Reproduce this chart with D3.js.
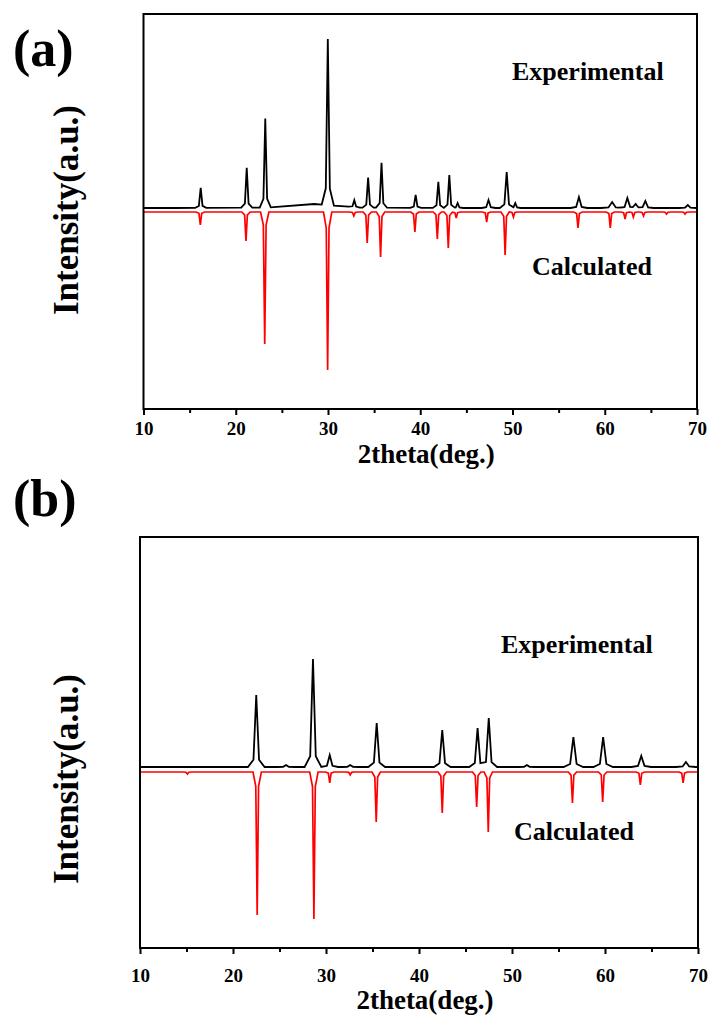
<!DOCTYPE html>
<html>
<head>
<meta charset="utf-8">
<script src="https://cdnjs.cloudflare.com/ajax/libs/d3/7.8.5/d3.min.js"></script>
<style>
  body { margin: 0; background: #fff; }
  text { font-family: "Liberation Serif", "Times New Roman", serif; font-weight: bold; }
</style>
</head>
<body>
<div class="chart"></div>
<script>
// peak tables: [2theta, height (a.u.), half width at base (deg)]
var expA = [
  [16.2, 20, 0.2], [21.19, 40, 0.2], [23.2, 89, 0.2], [29.98, 166, 0.22],
  [32.85, 7, 0.2], [34.35, 30, 0.2], [35.8, 45, 0.2], [39.5, 13, 0.2],
  [41.96, 26, 0.2], [43.15, 33, 0.2], [44.05, 5, 0.2], [47.4, 8, 0.25],
  [49.37, 36, 0.25], [50.3, 5, 0.2], [57.2, 11, 0.3], [60.8, 6, 0.4],
  [62.45, 10, 0.3], [63.35, 4, 0.3], [64.4, 7, 0.3], [69.0, 3, 0.3],
  [28.5, 4, 5.0]
];
var calcA = [
  [16.16, 13, 0.15], [21.11, 29, 0.15], [23.14, 132, 0.15], [29.96, 158, 0.15],
  [32.8, 4, 0.15], [34.25, 31, 0.15], [35.7, 45, 0.15], [39.42, 20, 0.15],
  [41.85, 27, 0.15], [43.04, 36, 0.15], [43.9, 6, 0.15], [47.2, 10, 0.15],
  [49.2, 43, 0.15], [50.1, 5, 0.15], [57.1, 16, 0.15], [60.6, 16, 0.15],
  [62.2, 7, 0.15], [63.1, 5, 0.15], [64.2, 4, 0.15], [66.7, 2, 0.15], [68.7, 2, 0.15]
];
var expB = [
  [22.5, 72, 0.3], [25.7, 2, 0.3], [28.6, 108, 0.3], [30.4, 12, 0.3],
  [32.6, 2, 0.3], [35.45, 44, 0.3], [42.5, 37, 0.3], [46.3, 39, 0.3],
  [47.5, 49, 0.3], [51.6, 2, 0.3], [56.6, 30, 0.35], [59.8, 30, 0.35],
  [63.9, 11, 0.35], [68.7, 5, 0.35]
];
var calcB = [
  [15.1, 2, 0.15], [22.6, 143, 0.15], [28.7, 147, 0.15], [30.4, 11, 0.15],
  [32.6, 3, 0.15], [35.4, 50, 0.15], [42.5, 41, 0.15], [46.2, 35, 0.15],
  [47.45, 60, 0.15], [56.5, 31, 0.15], [59.75, 30, 0.15], [63.8, 13, 0.15],
  [68.4, 11, 0.15]
];

var majorTicks = [10, 20, 30, 40, 50, 60, 70];
var minorTicks = [15, 25, 35, 45, 55, 65];

var width = 711,
    height = 1015;

var svg = d3.select(".chart").append("svg")
  .attr("width", width)
  .attr("height", height);

svg.append("rect").attr("width", width).attr("height", height).attr("fill", "#fff");

// sum of triangular peaks (with a faint wider foot), evaluated at every break point
function pattern(peaks, offset, sign) {
  var xs = [10, 70];
  peaks.forEach(function(p) {
    [-3, -1, 0, 1, 3].forEach(function(k) { xs.push(p[0] + k * p[2]); });
  });
  xs = xs.filter(function(v) { return v >= 10 && v <= 70; }).sort(d3.ascending);
  function tri(x, c, w) { return Math.max(0, 1 - Math.abs(x - c) / w); }
  return xs.map(function(x) {
    var s = 0;
    peaks.forEach(function(p) {
      s += p[1] * (0.85 * tri(x, p[0], p[2]) + 0.15 * tri(x, p[0], 3 * p[2]));
    });
    return [x, offset + sign * s];
  });
}

function panel(o) {
  var g = svg.append("g");
  var x = d3.scaleLinear().domain([10, 70]).range([o.left, o.right]);
  var y = d3.scaleLinear().domain(o.yDomain).range([o.bottom, o.top]);

  var line = d3.line()
    .x(function(d) { return x(d[0]); })
    .y(function(d) { return y(d[1]); });

  g.append("path")
    .datum(pattern(o.calc, 0, -1))
    .attr("d", line)
    .attr("fill", "none")
    .attr("stroke", "#ff0000")
    .attr("stroke-width", 1.7);

  g.append("path")
    .datum(pattern(o.exp, o.expOffset, 1))
    .attr("d", line)
    .attr("fill", "none")
    .attr("stroke", "#000")
    .attr("stroke-width", 1.8);

  g.append("rect")
    .attr("x", o.left).attr("y", o.top)
    .attr("width", o.right - o.left).attr("height", o.bottom - o.top)
    .attr("fill", "none").attr("stroke", "#000").attr("stroke-width", 2);

  var ax = g.append("g")
    .attr("transform", "translate(0," + o.bottom + ")")
    .call(d3.axisBottom(x).tickValues(majorTicks).tickSize(6).tickPadding(o.pad));
  ax.select(".domain").remove();
  ax.selectAll("line").attr("stroke-width", 2);
  ax.selectAll("text").attr("font-size", 19).attr("fill", "#000")
    .style("font-family", "'Liberation Serif', serif").style("font-weight", "bold");

  var mx = g.append("g")
    .attr("transform", "translate(0," + o.bottom + ")")
    .call(d3.axisBottom(x).tickValues(minorTicks).tickSize(4).tickFormat(""));
  mx.select(".domain").remove();
  mx.selectAll("line").attr("stroke-width", 2);

  g.append("text")
    .attr("x", (o.left + o.right) / 2 + 6).attr("y", o.titleY)
    .attr("text-anchor", "middle").attr("font-size", 27)
    .text("2theta(deg.)");

  g.append("text")
    .attr("transform", "translate(" + 78 + "," + o.ylabY + ") rotate(-90)")
    .attr("text-anchor", "middle").attr("font-size", 35)
    .text("Intensity(a.u.)");

  g.append("text")
    .attr("x", 13).attr("y", o.tagY)
    .attr("font-size", 52)
    .text(o.tag);

  g.append("text")
    .attr("x", o.expX).attr("y", o.expY)
    .attr("font-size", 26)
    .text("Experimental");

  g.append("text")
    .attr("x", o.calcX).attr("y", o.calcY)
    .attr("font-size", 26)
    .text("Calculated");
}

panel({
  tag: "(a)", tagY: 66,
  left: 143.5, right: 697, top: 14, bottom: 409,
  yDomain: [-197, 198], expOffset: 4,
  exp: expA, calc: calcA,
  pad: 7, titleY: 463, ylabY: 210,
  expX: 512, expY: 80, calcX: 532, calcY: 275
});

panel({
  tag: "(b)", tagY: 516,
  left: 140, right: 698, top: 537, bottom: 948,
  yDomain: [-176, 235], expOffset: 5,
  exp: expB, calc: calcB,
  pad: 15, titleY: 1009, ylabY: 779,
  expX: 501, expY: 653, calcX: 514, calcY: 840
});
</script>
</body>
</html>
